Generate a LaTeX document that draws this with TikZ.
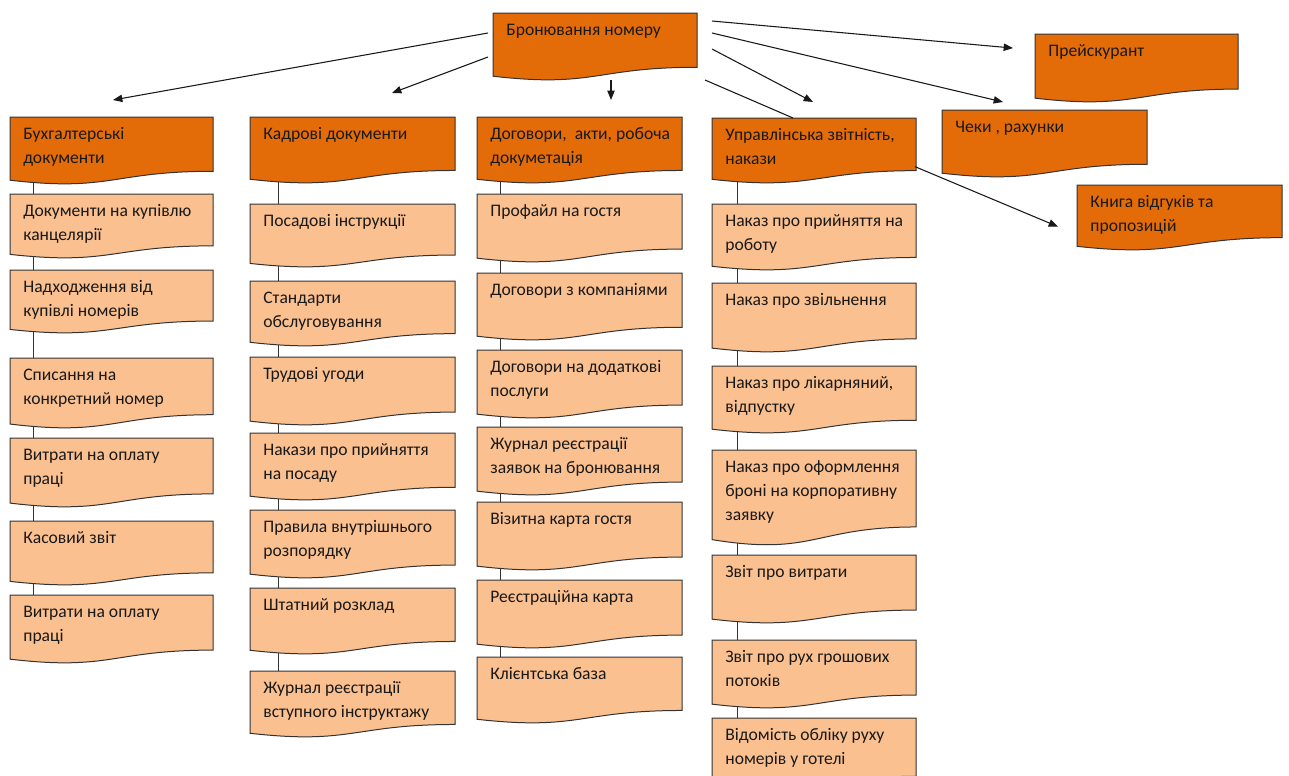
\documentclass[tikz,border=0pt]{standalone}
\usepackage{fontspec}
\setmainfont{Carlito}
\usetikzlibrary{arrows.meta,calc,backgrounds}
\definecolor{darkor}{HTML}{E36C09}
\definecolor{lightor}{HTML}{FAC090}
\definecolor{edgecol}{HTML}{333333}
\tikzset{
  docedge/.style={draw=edgecol, line width=0.75pt},
  doctext/.style={anchor=north west, inner sep=0pt, outer sep=0pt,
    font=\fontsize{13.2pt}{18pt}\selectfont, text=black!90},
  arr/.style={draw=black!90, line width=0.8pt, -{Triangle[length=7pt,width=5.5pt]}},
  plainline/.style={draw=black!90, line width=0.8pt},
  spine/.style={draw=edgecol, line width=0.75pt},
}
\newcommand\docbox[7]{%
  \pgfmathsetmacro\dbh{(#5-#3)/0.99}%
  \pgfmathsetmacro\dbm{(#2+#4)/2}%
  \pgfmathsetmacro\dbr{#3+0.802*\dbh}%
  \pgfmathsetmacro\dbc{#3+1.1075*\dbh}%
  \pgfmathsetmacro\dbl{#3+0.934*\dbh}%
  \pgfmathsetmacro\dbW{(#4-#2)*0.75}%
  \pgfmathsetmacro\dbH{0.934*\dbh*0.75}%
  \filldraw[docedge, fill=#6] (#2,#3) -- (#4,#3) -- (#4,\dbr) .. controls (\dbm,\dbr) and (\dbm,\dbc) .. (#2,\dbl) -- cycle;
  \node[doctext] (#1) at (#2,#3) {\vbox to \dbH pt{\hsize=\dbW pt\parindent=0pt\leftskip=10pt\rightskip=0pt plus 1fil\baselineskip=18pt\hbox{}\vskip-1pt\noindent #7\par\vss}};
}
\begin{document}
\begin{tikzpicture}[x=0.75pt,y=-0.75pt]
\useasboundingbox (0,0) rectangle (1289,775);
\clip (0,0) rectangle (1289,775);
\begin{pgfonlayer}{background}
\fill[white] (0,0) rectangle (1289,775);
\end{pgfonlayer}

% top
\docbox{toph}{493}{13}{697}{80}{darkor}{Бронювання номеру}

% column 1
\docbox{b1h}{10}{117}{213}{184}{darkor}{Бухгалтерські\\документи}
\docbox{b1a}{10}{194}{213}{258}{lightor}{Документи на купівлю\\канцелярії}
\docbox{b1b}{10}{270}{213}{333}{lightor}{Надходження від\\купівлі номерів}
\docbox{b1c}{10}{358}{213}{428}{lightor}{Списання на\\конкретний номер}
\docbox{b1d}{10}{438}{213}{507}{lightor}{Витрати на оплату\\праці}
\docbox{b1e}{10}{521}{213}{585}{lightor}{Касовий звіт}
\docbox{b1f}{10}{595}{213}{663}{lightor}{Витрати на оплату\\праці}

% column 2
\docbox{b2h}{250}{117}{455}{183}{darkor}{Кадрові документи}
\docbox{b2a}{250}{204}{455}{267}{lightor}{Посадові інструкції}
\docbox{b2b}{250}{281}{455}{346}{lightor}{Стандарти\\обслуговування}
\docbox{b2c}{250}{357}{455}{425}{lightor}{Трудові угоди}
\docbox{b2d}{250}{433}{455}{500}{lightor}{Накази про прийняття\\на посаду}
\docbox{b2e}{250}{510}{455}{578}{lightor}{Правила внутрішнього\\розпорядку}
\docbox{b2f}{250}{588}{455}{654}{lightor}{Штатний розклад}
\docbox{b2g}{250}{671}{455}{737}{lightor}{Журнал реєстрації\\вступного інструктажу}

% column 3
\docbox{b3h}{477}{117}{682}{183}{darkor}{Договори,\ \ акти, робоча\\докуметація}
\docbox{b3a}{477}{194}{682}{262}{lightor}{Профайл на гостя}
\docbox{b3b}{477}{273}{682}{340}{lightor}{Договори з компаніями}
\docbox{b3c}{477}{350}{682}{418}{lightor}{Договори на додаткові\\послуги}
\docbox{b3d}{477}{427}{682}{495}{lightor}{Журнал реєстрації\\заявок на бронювання}
\docbox{b3e}{477}{502}{682}{570}{lightor}{Візитна карта гостя}
\docbox{b3f}{477}{580}{682}{648}{lightor}{Реєстраційна карта}
\docbox{b3g}{477}{657}{682}{723}{lightor}{Клієнтська база}

% column 4
\docbox{b4h}{712}{118}{916}{183}{darkor}{Управлінська звітність,\\накази}
\docbox{b4a}{712}{204}{916}{270}{lightor}{Наказ про прийняття на\\роботу}
\docbox{b4b}{712}{283}{916}{352}{lightor}{Наказ про звільнення}
\docbox{b4c}{712}{366}{916}{433}{lightor}{Наказ про лікарняний,\\відпустку}
\docbox{b4d}{712}{450}{916}{545}{lightor}{Наказ про оформлення\\броні на корпоративну\\заявку}
\docbox{b4e}{712}{555}{916}{623}{lightor}{Звіт про витрати}
\docbox{b4f}{712}{640}{916}{708}{lightor}{Звіт про рух грошових\\потоків}
\docbox{b4g}{712}{718}{916}{790}{lightor}{Відомість обліку руху\\номерів у готелі}

% right
\docbox{r1}{1035}{34}{1238}{102}{darkor}{Прейскурант}
\docbox{r2}{942}{110}{1147}{177}{darkor}{Чеки , рахунки}
\docbox{r3}{1077}{185}{1282}{250}{darkor}{Книга відгуків та\\пропозицій}

% spines
\begin{pgfonlayer}{background}
\foreach \a/\b in {b1h/b1a,b1a/b1b,b1b/b1c,b1c/b1d,b1d/b1e,b1e/b1f}
  \draw[spine] ($(\a.south west)+(23,0)$) -- ($(\b.north west)+(23,0)$);
\foreach \a/\b in {b2h/b2a,b2a/b2b,b2b/b2c,b2c/b2d,b2d/b2e,b2e/b2f,b2f/b2g}
  \draw[spine] ($(\a.south west)+(28,0)$) -- ($(\b.north west)+(28,0)$);
\foreach \a/\b in {b3h/b3a,b3a/b3b,b3b/b3c,b3c/b3d,b3d/b3e,b3e/b3f,b3f/b3g}
  \draw[spine] ($(\a.south west)+(23,0)$) -- ($(\b.north west)+(23,0)$);
\foreach \a/\b in {b4h/b4a,b4a/b4b,b4b/b4c,b4c/b4d,b4d/b4e,b4e/b4f,b4f/b4g}
  \draw[spine] ($(\a.south west)+(25,0)$) -- ($(\b.north west)+(25,0)$);
\end{pgfonlayer}

% connectors from top box
\draw[arr] ($(toph.north west)+(-5,20)$) -- ($(b1h.north)+(1.5,-17)$);
\draw[arr] ($(toph.north west)+(-5,44)$) -- ($(b2h.north)+(39.5,-24)$);
\draw[arr] ($(toph.south)+(16,4)$) -- ($(b3h.north)+(31.5,-17)$);
\draw[arr] ($(toph.north east)+(15,8)$) -- ($(r1.west)+(-22,-18)$);
\draw[arr] ($(toph.north east)+(15,20)$) -- ($(r2.north)+(-41.5,-8)$);
\draw[arr] ($(toph.north east)+(15,36)$) -- ($(b4h.north)+(-1,-16)$);
\draw[plainline] ($(toph.north east)+(8,67)$) -- ($(b4h.north)+(-21,0)$);
\draw[arr] ($(b4h.east)+(-1,18)$) -- ($(r3.west)+(-19,11)$);
\end{tikzpicture}
\end{document}
